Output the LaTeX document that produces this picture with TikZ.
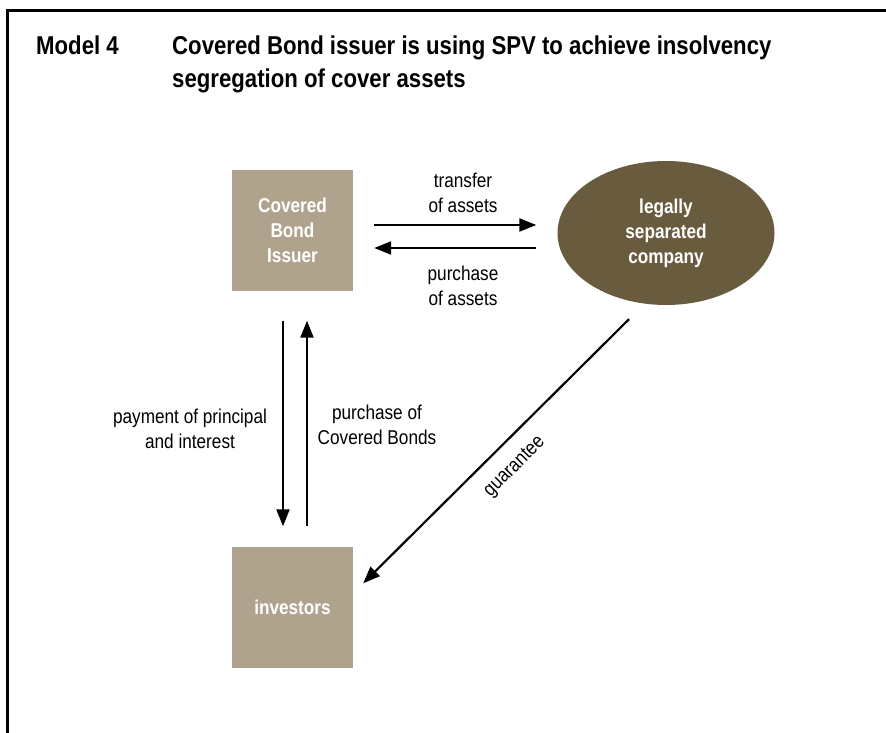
\documentclass[tikz,border=0pt]{standalone}
\usepackage{fontspec}
\setmainfont{Liberation Sans}[FakeStretch=0.86]
\usetikzlibrary{arrows.meta,shapes.geometric,calc}
\definecolor{boxtan}{HTML}{B0A38E}
\definecolor{ellolive}{HTML}{685B3E}
\begin{document}
\begin{tikzpicture}[x=1pt,y=-1pt,
  box/.style={rectangle, fill=boxtan, minimum width=121pt, minimum height=121pt, inner sep=0pt,
    text=white, font=\fontsize{20}{25}\selectfont\bfseries, align=center},
  oval/.style={ellipse, fill=ellolive, minimum width=217pt, minimum height=144pt, inner sep=0pt,
    text=white, font=\fontsize{20}{25}\selectfont\bfseries, align=center},
  lbl/.style={font=\fontsize{20}{25}\selectfont, align=center, inner sep=0pt},
  arr/.style={line width=2.2pt, -{Triangle[length=17pt,width=13pt]}},
  frameline/.style={line width=3pt},
  ttl/.style={font=\fontsize{25.8}{33}\selectfont\bfseries, inner sep=0pt, anchor=base west}]
\useasboundingbox (0,0) rectangle (886,733);
\draw[frameline] (7.5,733) -- (7.5,10.5) -- (886,10.5);
% title
\node[ttl] (m) at (36,55) {Model 4};
\node[ttl] (t1) at (172,55) {Covered Bond issuer is using SPV to achieve insolvency};
\node[ttl] (t2) at (172,88) {segregation of cover assets};
% nodes
\node[box] (iss) at (292.5,230) {Covered\\Bond\\Issuer};
\node[oval] (ell) at (666,233) {legally\\separated\\company};
\node[box] (inv) at (292.5,607) {investors};
% horizontal arrows
\draw[arr, shorten <=21pt, shorten >=21pt] ([yshift=5pt]iss.east) -- ([yshift=5pt]iss.east -| ell.west);
\draw[arr, shorten <=21pt, shorten >=21pt] ([yshift=-18pt]iss.east -| ell.west) -- ([yshift=-18pt]iss.east);
\node[lbl] (l1) at (463,193) {transfer\\of assets};
\node[lbl] (l2) at (463,286) {purchase\\of assets};
% vertical arrows
\draw[arr, shorten <=30pt, shorten >=20pt] ([xshift=-9.5pt]iss.south) -- ([xshift=-9.5pt]iss.south |- inv.north);
\draw[arr, shorten <=20pt, shorten >=30pt] ([xshift=14.5pt]iss.south |- inv.north) -- ([xshift=14.5pt]iss.south);
\node[lbl] (l3) at (190,429) {payment of principal\\and interest};
\node[lbl] (l4) at (377,425) {purchase of\\Covered Bonds};
% guarantee
\coordinate (gs) at ([shift={(-37pt,-14pt)}]ell.south);
\coordinate (ge) at ([shift={(10pt,-37pt)}]inv.north east);
\draw[arr] (gs) -- (ge);
\node[lbl, rotate=45] (g) at (515,467) {guarantee};
\end{tikzpicture}
\end{document}
